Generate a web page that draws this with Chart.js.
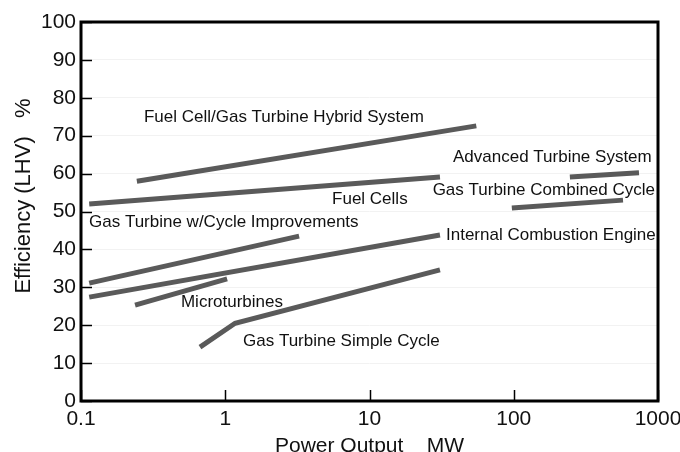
<!DOCTYPE html>
<html><head><meta charset="utf-8">
<script src="https://cdn.jsdelivr.net/npm/chart.js@4/dist/chart.umd.min.js"></script>
<style>html,body{margin:0;padding:0;background:#fff}#wrap{width:680px;height:452px}</style>
</head><body><div id="wrap"><canvas id="c" width="680" height="452"></canvas></div>
<script>
// ---- data ----
const xTickValues = [0.1, 1, 10, 100, 1000];
const xTickLabels = ["0.1", "1", "10", "100", "1000"];
const yTickValues = [0, 10, 20, 30, 40, 50, 60, 70, 80, 90, 100];

const hybridX = [0.244, 55];        const hybridY = [58, 72.6];
const fuelCellsX = [0.114, 30.8];   const fuelCellsY = [52.0, 59.1];
const advancedX = [245, 738];       const advancedY = [59.1, 60.2];
const combinedX = [97, 572];        const combinedY = [50.9, 53.0];
const cycleImpX = [0.114, 3.25];    const cycleImpY = [31.1, 43.5];
const iceX = [0.114, 30.8];         const iceY = [27.4, 43.8];
const microX = [0.237, 1.03];       const microY = [25.3, 32.2];
const simpleX = [0.668, 1.17, 30.8]; const simpleY = [14.2, 20.5, 34.6];

const labelTexts = ["Fuel Cell/Gas Turbine Hybrid System", "Advanced Turbine System",
  "Gas Turbine Combined Cycle", "Fuel Cells", "Gas Turbine w/Cycle Improvements",
  "Internal Combustion Engine", "Microturbines", "Gas Turbine Simple Cycle"];
const labelX = [0.273, 37.9, 27.4, 5.5, 0.1136, 33.9, 0.493, 1.327];
const labelY = [74.9, 64.4, 55.7, 53.3, 47.2, 43.8, 26.1, 15.8];

const xTitle = "Power Output    MW";
const yTitle = "Efficiency (LHV)   %";

// ---- build ----
const FONT = '"Liberation Sans", Arial, Helvetica, sans-serif';
const LINE = '#5a5a5a';
function pts(xs, ys){ return xs.map((x,i)=>({x:x, y:ys[i]})); }
const seriesList = [
  [hybridX, hybridY], [fuelCellsX, fuelCellsY], [advancedX, advancedY], [combinedX, combinedY],
  [cycleImpX, cycleImpY], [iceX, iceY], [microX, microY], [simpleX, simpleY]
];
const datasets = seriesList.map(s => ({
  data: pts(s[0], s[1]), borderColor: LINE, borderWidth: 5, pointRadius: 0,
  borderCapStyle: 'butt', borderJoinStyle: 'miter', tension: 0, fill: false
}));

const decor = {
  id: 'decor',
  afterDatasetsDraw(chart){
    const ctx = chart.ctx, a = chart.chartArea;
    const xs = chart.scales.x, ys = chart.scales.y;
    ctx.save();
    // annotation labels
    ctx.fillStyle = '#111';
    ctx.font = '17px ' + FONT;
    ctx.textAlign = 'left'; ctx.textBaseline = 'middle';
    labelTexts.forEach((t,i)=>{
      ctx.fillText(t, xs.getPixelForValue(labelX[i]), ys.getPixelForValue(labelY[i]));
    });
    // inner tick marks
    ctx.strokeStyle = '#000'; ctx.lineWidth = 1.5;
    yTickValues.forEach(v=>{
      const y = Math.round(ys.getPixelForValue(v)) + 0.5;
      ctx.beginPath(); ctx.moveTo(a.left, y); ctx.lineTo(a.left + 11, y); ctx.stroke();
    });
    xTickValues.forEach(v=>{
      const x = Math.round(xs.getPixelForValue(v)) + 0.5;
      ctx.beginPath(); ctx.moveTo(x, a.bottom); ctx.lineTo(x, a.bottom - 11); ctx.stroke();
    });
    // frame
    ctx.lineWidth = 3; ctx.strokeStyle = '#000';
    ctx.strokeRect(a.left, a.top, a.right - a.left, a.bottom - a.top);
    // axis titles
    ctx.fillStyle = '#111';
    ctx.font = '21px ' + FONT;
    ctx.textAlign = 'center'; ctx.textBaseline = 'alphabetic';
    ctx.fillText(xTitle, (a.left + a.right) / 2, 452);
    ctx.save();
    ctx.translate(30, 196);
    ctx.rotate(-Math.PI/2);
    ctx.font = '22px ' + FONT;
    ctx.fillText(yTitle, 0, 0);
    ctx.restore();
    ctx.restore();
  }
};

new Chart(document.getElementById('c'), {
  type: 'line',
  data: { datasets },
  options: {
    responsive: false, animation: false, devicePixelRatio: 1,
    layout: { padding: { top: 22, right: 22, left: 0, bottom: 0 } },
    plugins: { legend: { display: false }, tooltip: { enabled: false }, title: { display: false } },
    scales: {
      x: {
        type: 'logarithmic', min: 0.1, max: 1000,
        afterBuildTicks: s => { s.ticks = xTickValues.map(v => ({ value: v })); },
        afterFit: s => { s.height = 51; s.paddingLeft = 0; s.paddingRight = 0; },
        grid: { display: false, drawTicks: false },
        border: { display: false },
        ticks: { autoSkip: false, maxRotation: 0, padding: 6, color: '#111',
          font: { size: 21, family: FONT },
          callback: (v, i) => xTickLabels[i] }
      },
      y: {
        type: 'linear', min: 0, max: 100,
        afterBuildTicks: s => { s.ticks = yTickValues.map(v => ({ value: v })); },
        afterFit: s => { s.width = 81; s.paddingTop = 0; s.paddingBottom = 0; },
        grid: { color: '#f2f2f2', drawTicks: false, lineWidth: 1 },
        border: { display: false },
        ticks: { padding: 5, color: '#111', font: { size: 21, family: FONT },
          callback: v => String(v) }
      }
    }
  },
  plugins: [decor]
});
</script>
</body></html>
